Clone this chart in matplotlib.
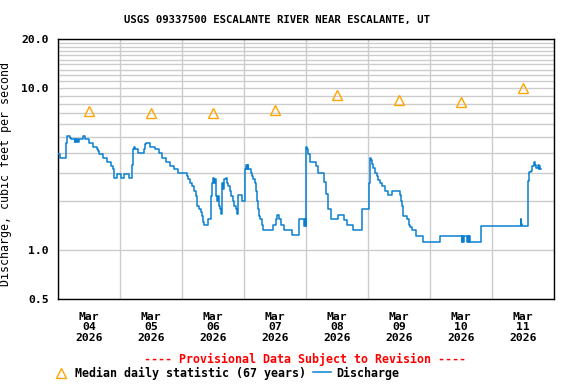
import matplotlib
matplotlib.use('Agg')
import matplotlib.pyplot as plt
import matplotlib.dates as mdates
from matplotlib.ticker import FixedLocator, FormatStrFormatter, NullFormatter
from matplotlib.lines import Line2D
import numpy as np

# discharge breakpoints: hours after 2026-03-04 00:00, value in cfs (step 'post')
hours = [0.0, 0.5, 3.0, 3.3, 4.6, 4.8, 6.3, 6.6, 6.9, 7.2, 7.5, 7.9, 9.5, 10.3,
         12.0, 13.4, 15.0, 15.3, 15.6, 17.3, 18.8, 20.5, 21.0, 21.4, 22.7, 24.3,
         25.4, 27.3, 28.5, 28.9, 29.3, 29.8, 30.8, 33.2, 33.7, 34.1, 35.6, 37.5,
         38.8, 40.1, 41.8, 43.1, 44.6, 46.3, 49.9, 50.3, 51.0, 51.6, 52.5, 53.2,
         53.6, 53.8, 54.5, 55.1, 55.6, 56.0, 56.2, 56.4, 58.1, 59.2, 59.5, 60.0,
         60.3, 60.6, 60.9, 61.2, 61.5, 61.8, 62.2, 62.7, 63.0, 63.5, 63.9, 64.3,
         64.8, 65.3, 65.8, 66.3, 66.9, 67.5, 68.1, 68.7, 69.2, 69.7, 71.0, 72.3,
         72.6, 73.0, 73.3, 73.6, 74.5, 75.0, 75.5, 76.0, 76.5, 77.0, 77.4, 77.8,
         78.2, 78.7, 79.4, 83.2, 84.3, 84.8, 85.4, 86.3, 87.3, 90.3, 93.3, 95.3,
         95.6, 95.8, 96.0, 96.2, 96.8, 97.4, 99.7, 100.6, 102.8, 103.5, 104.5,
         105.6, 108.4, 110.7, 111.6, 114.2, 117.4, 120.2, 120.5, 121.0, 121.4,
         122.0, 122.5, 123.2, 123.8, 124.5, 125.3, 126.4, 127.7, 129.0, 132.2,
         132.5, 132.9, 133.5, 135.0, 135.6, 136.1, 137.0, 138.4, 141.3, 147.7,
         156.1, 156.4, 156.8, 157.2, 158.2, 158.5, 158.8, 159.1, 159.3, 163.5,
         163.8, 179.0, 179.2, 179.5, 181.9, 182.3, 182.8, 183.4, 184.2, 184.7,
         185.1, 185.5, 185.9, 186.2, 186.5, 186.7]
flow = [3.94, 3.72, 4.6, 5.05, 4.94, 4.82, 4.65, 4.82, 4.65, 4.82, 4.65, 4.82, 5.05, 4.82,
        4.60, 4.35, 4.23, 4.12, 3.94, 3.72, 3.52, 3.32, 3.17, 2.80, 2.97, 2.80,
        2.97, 2.80, 3.35, 4.19, 4.35, 4.19, 3.95, 4.19, 4.49, 4.60, 4.35, 4.23,
        3.95, 3.72, 3.52, 3.32, 3.17, 2.98, 2.87, 2.74, 2.61, 2.49, 2.32, 2.16,
        2.01, 1.88, 1.79, 1.71, 1.63, 1.55, 1.50, 1.43, 1.55, 2.16, 2.60, 2.80,
        2.61, 2.74, 2.32, 2.16, 2.01, 2.16, 1.88, 1.79, 1.67, 2.61, 2.40, 2.74,
        2.80, 2.61, 2.49, 2.32, 2.16, 2.01, 1.88, 1.79, 1.67, 2.19, 2.01, 3.15,
        3.34, 3.15, 3.34, 3.15, 3.01, 2.87, 2.74, 2.61, 2.32, 2.01, 1.79, 1.63,
        1.55, 1.43, 1.34, 1.43, 1.55, 1.64, 1.55, 1.43, 1.34, 1.24, 1.55, 1.41,
        1.55, 1.41, 4.33, 4.19, 3.90, 3.52, 3.30, 3.01, 2.62, 2.21, 1.79,
        1.55, 1.65, 1.54, 1.43, 1.34, 1.79, 2.61, 3.72, 3.60, 3.38,
        3.20, 3.01, 2.85, 2.70, 2.61, 2.49, 2.32, 2.18, 2.32, 2.18,
        2.00, 1.88, 1.63, 1.55, 1.43, 1.40, 1.33, 1.23, 1.13, 1.23,
        1.13, 1.23, 1.13, 1.23, 1.13, 1.23, 1.13, 1.23, 1.13, 1.20,
        1.41, 1.55, 1.45, 1.41, 2.67, 3.04, 3.10, 3.30, 3.50, 3.35,
        3.20, 3.35, 3.15, 3.30, 3.15, 3.15]

median_days = ['2026-03-04', '2026-03-05', '2026-03-06', '2026-03-07',
               '2026-03-08', '2026-03-09', '2026-03-10', '2026-03-11']
median_vals = [7.22, 7.0, 7.06, 7.37, 9.1, 8.47, 8.24, 10.0]

base = np.datetime64('2026-03-04T00:00')
t = base + (np.array(hours) * 60).astype(int).astype('timedelta64[m]')
tm = np.array(median_days, dtype='datetime64[m]') + np.timedelta64(12 * 60, 'm')

plt.rcParams['font.family'] = 'DejaVu Sans Mono'
plt.rcParams['font.weight'] = 'bold'

fig = plt.figure(figsize=(5.76, 3.84), dpi=100)
ax = fig.add_axes([58.3 / 576, 1 - 299 / 384, (554.3 - 58.3) / 576, (299 - 39.3) / 384])

ax.step(t, flow, where='post', color='#0a80d0', lw=1.1, zorder=3)
ax.plot(tm, median_vals, linestyle='none', marker='^', ms=7.5, mfc='none',
        mec='#ffa500', mew=1.0, zorder=4)

ax.set_yscale('log')
ax.set_ylim(0.5, 20)
ax.yaxis.set_major_locator(FixedLocator([0.5, 1, 10, 20]))
ax.yaxis.set_major_formatter(FormatStrFormatter('%.1f'))
ax.yaxis.set_minor_locator(FixedLocator(list(range(2, 10)) + list(range(11, 20))))
ax.yaxis.set_minor_formatter(NullFormatter())

ax.set_xlim(np.datetime64('2026-03-04T00:00'), np.datetime64('2026-03-12T00:00'))
ax.xaxis.set_major_locator(mdates.HourLocator(byhour=12))
ax.xaxis.set_major_formatter(mdates.DateFormatter('%b\n%d\n%Y'))
ax.xaxis.set_minor_locator(mdates.DayLocator())

ax.grid(True, which='minor', color='#cccccc', lw=1.0)
ax.grid(True, which='major', axis='y', color='#cccccc', lw=1.0)
ax.set_axisbelow(True)
ax.tick_params(which='both', length=0, labelsize=8.2)
ax.tick_params(axis='x', pad=9)
ax.tick_params(axis='y', pad=7)
for lab in ax.get_xticklabels():
    lab.set_linespacing(1.12)
for s in ax.spines.values():
    s.set_linewidth(1.0)
    s.set_color('black')

ax.set_ylabel('Discharge, cubic feet per second', fontsize=8.4)
ax.yaxis.set_label_coords((12 - 58.3) / 496, (299 - 174) / 259.7)

fig.text(276.5 / 576, 1 - 20 / 384, 'USGS 09337500 ESCALANTE RIVER NEAR ESCALANTE, UT',
         ha='center', va='center', fontsize=7.7)
fig.text(305.5 / 576, 1 - 359 / 384, '---- Provisional Data Subject to Revision ----',
         ha='center', va='center', fontsize=8.4, color='red')

# legend row
ly = 1 - 373 / 384
fig.add_artist(Line2D([61 / 576], [ly], marker='^', ms=7.5, mfc='none', mec='#ffa500',
                      mew=1.0, linestyle='none'))
fig.text(75 / 576, ly, 'Median daily statistic (67 years)', ha='left', va='center', fontsize=8.4)
fig.add_artist(Line2D([313 / 576, 331 / 576], [ly + 0.002, ly + 0.002], color='#0a80d0', lw=1.1))
fig.text(336.7 / 576, ly, 'Discharge', ha='left', va='center', fontsize=8.4)

fig.savefig('out.png', dpi=100)
